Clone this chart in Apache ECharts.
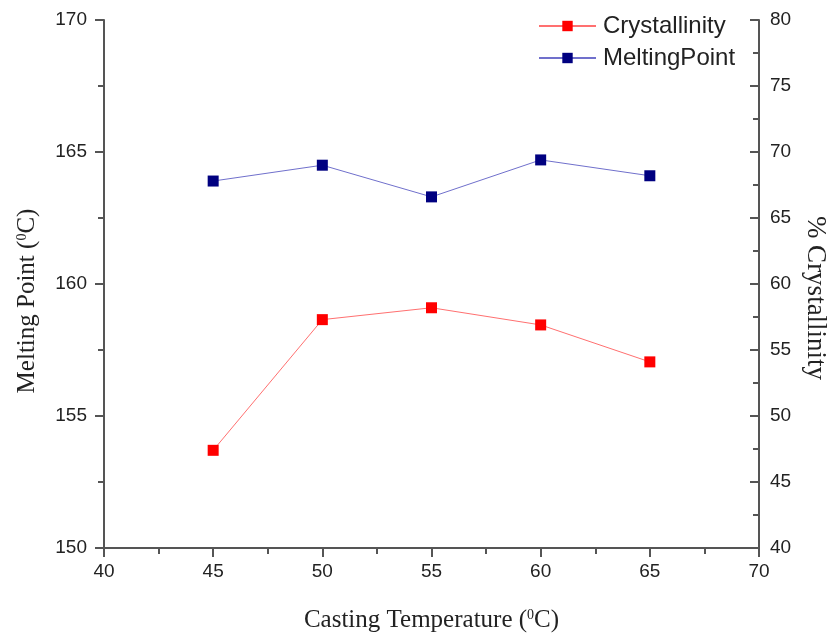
<!DOCTYPE html>
<html>
<head>
<meta charset="utf-8">
<script src="https://cdn.jsdelivr.net/npm/echarts@6/dist/echarts.min.js"></script>
<style>html,body{margin:0;padding:0;background:#fff}#c{width:833px;height:633px}</style>
</head>
<body>
<div id="c"></div>
<script>
const castingTemps = [45, 50, 55, 60, 65];
const crystallinity = [47.4, 57.3, 58.2, 56.9, 54.1];
const meltingPoint = [163.9, 164.5, 163.3, 164.7, 164.1];
const seriesNames = ['Crystallinity', 'MeltingPoint'];

const chart = echarts.init(document.getElementById('c'));
const axisColor = '#555';
const labelFont = {fontFamily: 'Liberation Sans', fontSize: 19, color: '#222'};
function nameRich(size) {
  return {
    a: {fontFamily: 'Liberation Serif', fontSize: size, color: '#222'},
    s: {fontFamily: 'Liberation Serif', fontSize: Math.round(size * 0.55), color: '#222', verticalAlign: 'top', padding: [0,0,Math.round(size*0.45),0]}
  };
}
function valueAxisCommon(inside, margin) {
  return {
    axisLine: {show: true, onZero: false, lineStyle: {color: axisColor, width: 2}},
    axisTick: {show: true, inside: inside, length: 9, lineStyle: {color: axisColor, width: 2}},
    minorTick: {show: true, splitNumber: 2, length: 6, lineStyle: {color: axisColor, width: 2}},
    splitLine: {show: false},
    axisLabel: Object.assign({margin: margin}, labelFont)
  };
}
const option = {
  animation: false,
  backgroundColor: '#fff',
  grid: {left: 104, right: 74, top: 20, bottom: 85, containLabel: false, outerBoundsMode: 'none'},
  legend: {
    orient: 'vertical', left: 538, top: 14, padding: 0,
    itemWidth: 57, itemHeight: 13, itemGap: 8,
    textStyle: {fontFamily: 'Liberation Sans', fontSize: 24, color: '#222', padding: [0,0,0,2]},
    data: seriesNames
  },
  xAxis: Object.assign(valueAxisCommon(false, 14), {
    type: 'value', min: 40, max: 70, interval: 5,
    name: '{a|Casting Temperature (}{s|0}{a|C)}',
    nameLocation: 'middle', nameGap: 60,
    nameTextStyle: {rich: nameRich(25)}
  }),
  yAxis: [
    Object.assign(valueAxisCommon(false, 17), {
      type: 'value', min: 150, max: 170, interval: 5, position: 'left',
      name: '{a|Melting Point (}{s|0}{a|C)}',
      nameLocation: 'middle', nameGap: 64, nameRotate: 90,
      nameTextStyle: {rich: nameRich(25), padding: [0, 34, 0, 0]}
    }),
    Object.assign(valueAxisCommon(true, 11), {
      type: 'value', min: 40, max: 80, interval: 5, position: 'right',
      name: '{a|% Crystallinity}',
      nameLocation: 'middle', nameGap: 41, nameRotate: -90,
      nameTextStyle: {rich: nameRich(27), padding: [0, 0, 0, 28]}
    })
  ],
  series: [
    {
      name: seriesNames[0], type: 'line', yAxisIndex: 1,
      data: castingTemps.map((x, i) => [x, crystallinity[i]]),
      symbol: 'rect', symbolSize: 11,
      itemStyle: {color: '#ff0000'},
      lineStyle: {color: '#ff7070', width: 1}
    },
    {
      name: seriesNames[1], type: 'line', yAxisIndex: 0,
      data: castingTemps.map((x, i) => [x, meltingPoint[i]]),
      symbol: 'rect', symbolSize: 11,
      itemStyle: {color: '#000080'},
      lineStyle: {color: '#7070cc', width: 1}
    }
  ]
};
chart.setOption(option);
</script>
</body>
</html>
